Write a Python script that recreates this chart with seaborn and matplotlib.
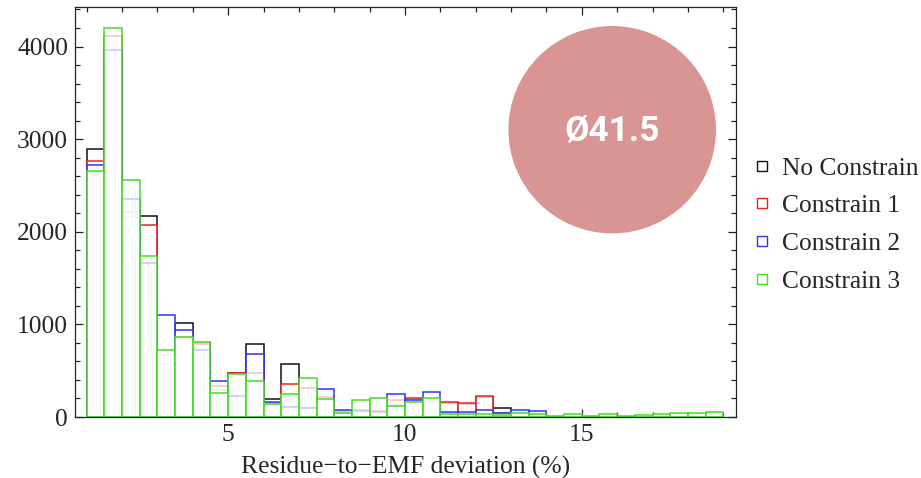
"""
Histogram of residue-to-EMF deviation for four constraint settings.
"""

import numpy as np
import pandas as pd
import matplotlib
matplotlib.use("Agg")
import matplotlib.pyplot as plt
from matplotlib.lines import Line2D
from matplotlib.patches import Ellipse
from matplotlib.ticker import MultipleLocator
import seaborn as sns

# bins of width 0.5 starting at 1 %
bin_start = 1.0
bin_width = 0.5

series_names = ["No Constrain", "Constrain 1", "Constrain 2", "Constrain 3"]
series_colors = ["#111111", "#ee2222", "#3333ee", "#44dd22"]

counts_none = [2890, 3950, 2160, 2175, 573, 1011, 800, 294, 470, 790, 190, 570, 93,
               97, 60, 70, 50, 130, 190, 170, 150, 140, 215, 93, 30, 15]
counts_c1 = [2760, 4110, 2210, 2068, 670, 860, 790, 330, 477, 477, 150, 355, 315,
             219, 50, 79, 60, 186, 204, 161, 161, 147, 229, 47, 20, 10]
counts_c2 = [2720, 3960, 2355, 1667, 1097, 943, 727, 394, 229, 681, 161, 108, 100,
             301, 79, 65, 57, 244, 179, 269, 54, 50, 79, 43, 79, 68]
counts_c3 = [2660, 4200, 2560, 1738, 724, 860, 806, 262, 459, 394, 136, 244, 419,
             190, 47, 186, 204, 118, 161, 204, 29, 29, 29, 22, 40, 36,
             7, 29, 11, 29, 11, 25, 29, 39, 43, 54]

all_counts = [counts_none, counts_c1, counts_c2, counts_c3]

sns.set_style("ticks")
plt.rcParams["font.family"] = ["Liberation Serif", "DejaVu Serif"]
text_size = 18.4

fig = plt.figure(figsize=(9.21, 4.78), dpi=100)
ax = fig.add_axes([75 / 921, 1 - 417 / 478, (736 - 75) / 921, (417 - 6.7) / 478])

# draw in order so later series fade the tops of earlier ones (semi-opaque white faces)
for name, color, counts in zip(series_names, series_colors, all_counts):
    n = len(counts)
    centers = bin_start + bin_width * (np.arange(n) + 0.5)
    df = pd.DataFrame({"x": centers, "count": counts})
    before = len(ax.patches)
    sns.histplot(data=df, x="x", weights="count", binwidth=bin_width,
                 binrange=(bin_start, bin_start + n * bin_width), element="bars",
                 fill=True, color=color, ax=ax, linewidth=1.1)
    for p in ax.patches[before:]:
        p.set_facecolor((1, 1, 1, 0.72))
        p.set_edgecolor(color)
        p.set_linewidth(1.1)

ax.set_xlim(0.67, 19.36)
ax.set_ylim(0, 4430)
ax.set_ylabel("")
ax.set_xlabel("Residue\u2212to\u2212EMF deviation (%)", fontsize=text_size, labelpad=7)

ax.xaxis.set_major_locator(MultipleLocator(5))
ax.xaxis.set_minor_locator(MultipleLocator(1))
ax.yaxis.set_major_locator(MultipleLocator(1000))
ax.yaxis.set_minor_locator(MultipleLocator(200))
ax.tick_params(which="both", direction="in", top=True, right=True, width=0.9,
               labelsize=text_size, color="#222222")
ax.tick_params(which="major", length=6, pad=5)
ax.tick_params(which="minor", length=3.5)
for s in ax.spines.values():
    s.set_visible(True)
    s.set_linewidth(0.9)
    s.set_color("#222222")

handles = [Line2D([], [], marker="s", linestyle="none", markerfacecolor="none",
                  markeredgecolor=c, markersize=7.5, markeredgewidth=1.0)
           for c in series_colors]
fig.legend(handles, series_names, loc="upper left", bbox_to_anchor=(0.82, 0.672),
           frameon=False, fontsize=text_size, handlelength=0.55, handletextpad=0.5,
           labelspacing=0.58, borderpad=0, borderaxespad=0)

# badge overlay
badge = Ellipse((612.2 / 921, 1 - 129.7 / 478), 207.6 / 921, 207.4 / 478,
                transform=fig.transFigure, facecolor="#d99594", edgecolor="none",
                zorder=10)
fig.add_artist(badge)
fig.text(611.7 / 921, 1 - 131 / 478, "\u00d841.5", color="white", fontsize=25.5,
         fontweight="bold", family=["Roboto", "DejaVu Sans"], ha="center",
         va="center", zorder=11)

fig.savefig("out.png", dpi=100)
plt.close(fig)
